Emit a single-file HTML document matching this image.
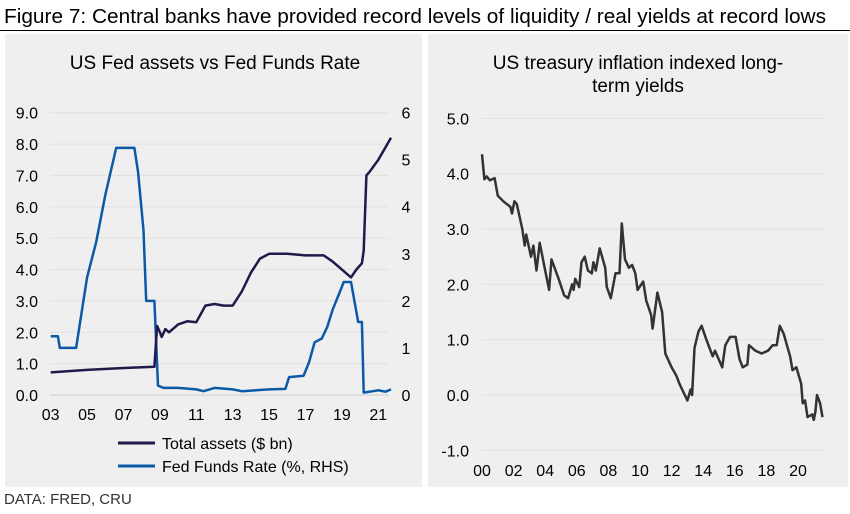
<!DOCTYPE html>
<html><head><meta charset="utf-8"><style>
body{margin:0;width:850px;height:509px;background:#fff;font-family:"Liberation Sans",Arial,sans-serif;overflow:hidden}
svg text{font-family:"Liberation Sans",Arial,sans-serif}
</style></head><body>
<svg id="s" width="850" height="509" xmlns="http://www.w3.org/2000/svg">
<text x="4" y="23" font-size="20.5" fill="#000" textLength="822" lengthAdjust="spacingAndGlyphs">Figure 7: Central banks have provided record levels of liquidity / real yields at record lows</text>
<line x1="0" y1="30.5" x2="850" y2="30.5" stroke="#000" stroke-width="1"/>
<rect x="5" y="34" width="417" height="453" fill="#efefef"/>
<rect x="428" y="34" width="420" height="453" fill="#efefef"/>
<text x="215" y="69" font-size="19" text-anchor="middle">US Fed assets vs Fed Funds Rate</text>
<text x="638" y="69" font-size="19" text-anchor="middle">US treasury inflation indexed long-</text>
<text x="638" y="92" font-size="19" text-anchor="middle">term yields</text>
<g id="g"></g>
<line x1="118" y1="443" x2="155" y2="443" stroke="#1f1a4a" stroke-width="3"/>
<text x="162" y="449" font-size="16">Total assets ($ bn)</text>
<line x1="118" y1="466" x2="155" y2="466" stroke="#0a5aa8" stroke-width="3"/>
<text x="162" y="472" font-size="16">Fed Funds Rate (%, RHS)</text>
<text x="4" y="504" font-size="15" fill="#333">DATA: FRED, CRU</text>
</svg>
<script>
var g=document.getElementById('g'),h='';
function lx(y){return (152+(y-2003)*54.6)/3}
function ly(v){return 90+(915-v*94.1)/3}
function ry(v){return 90+(915-v*141.2)/3}
for(var i=0;i<=9;i++){var y=ly(i);h+='<line x1="50" x2="389" y1="'+y+'" y2="'+y+'" stroke="#e0e0e0" stroke-width="1"/>';
h+='<text x="38" y="'+(y+6)+'" font-size="16" text-anchor="end">'+i.toFixed(1)+'</text>';}
for(var i=0;i<=6;i++){h+='<text x="406" y="'+(ry(i)+6)+'" font-size="16" text-anchor="middle">'+i+'</text>';}
h+='<line x1="50" x2="389" y1="'+ly(0)+'" y2="'+ly(0)+'" stroke="#ccc"/>';
for(var yr=2003;yr<=2021;yr+=2){var x=lx(yr);h+='<text x="'+x+'" y="420" font-size="16" text-anchor="middle">'+String(yr%100).padStart(2,'0')+'</text>';}
var A=[[2003,.72],[2005,.8],[2007,.86],[2008.7,.9],[2008.85,2.2],[2009,2.0],[2009.1,1.85],[2009.3,2.1],[2009.5,2.0],[2010,2.25],[2010.5,2.35],[2011,2.32],[2011.5,2.85],[2012,2.9],[2012.5,2.85],[2013,2.85],[2013.5,3.3],[2014,3.9],[2014.5,4.35],[2015,4.5],[2016,4.5],[2017,4.45],[2018,4.45],[2018.5,4.25],[2019.5,3.75],[2019.8,4.0],[2020.1,4.2],[2020.2,4.6],[2020.35,7.0],[2020.5,7.1],[2021,7.5],[2021.7,8.2]];
var F=[[2003,1.25],[2003.4,1.25],[2003.5,1.0],[2004.4,1.0],[2005,2.5],[2005.5,3.25],[2006,4.25],[2006.6,5.25],[2007.6,5.25],[2007.8,4.75],[2008.1,3.5],[2008.25,2.0],[2008.7,2.0],[2008.9,0.2],[2009.2,0.15],[2010,0.15],[2011,0.12],[2011.4,0.08],[2012,0.15],[2013,0.12],[2013.5,0.08],[2015,0.12],[2015.9,0.13],[2016.1,0.38],[2016.9,0.41],[2017.2,0.7],[2017.5,1.12],[2017.9,1.2],[2018.2,1.45],[2018.5,1.82],[2018.9,2.2],[2019.1,2.4],[2019.5,2.4],[2019.9,1.55],[2020.1,1.55],[2020.2,0.05],[2021,0.1],[2021.4,0.07],[2021.7,0.12]];
function path(d,fx,fy){return d.map(function(p,i){return(i?'L':'M')+fx(p[0]).toFixed(1)+','+fy(p[1]).toFixed(1)}).join('')}
h+='<path d="'+path(F,lx,ry)+'" fill="none" stroke="#0a5aa8" stroke-width="2.5" stroke-linejoin="round"/>';
h+='<path d="'+path(A,lx,ly)+'" fill="none" stroke="#1f1a4a" stroke-width="2.5" stroke-linejoin="round"/>';
function rx(y){return 425+(171+y*47.4)/3}
function rv(v){return 100+(885-v*166)/3}
for(var i=-1;i<=5;i++){var y=rv(i);h+='<line x1="482" x2="824" y1="'+y+'" y2="'+y+'" stroke="#e0e0e0"/>';
h+='<text x="469" y="'+(y+6)+'" font-size="16" text-anchor="end">'+(i<0?'-1.0':i.toFixed(1))+'</text>';}
for(var yr=0;yr<=20;yr+=2){h+='<text x="'+rx(yr)+'" y="476" font-size="16" text-anchor="middle">'+String(yr).padStart(2,'0')+'</text>';}
var R=[[0,4.35],[0.15,3.9],[0.3,3.95],[0.5,3.88],[0.8,3.92],[1,3.6],[1.35,3.5],[1.8,3.4],[1.9,3.28],[2.05,3.5],[2.2,3.45],[2.55,3.0],[2.7,2.7],[2.8,2.9],[3.1,2.5],[3.25,2.7],[3.45,2.25],[3.65,2.75],[4.0,2.25],[4.25,1.9],[4.4,2.45],[4.85,2.1],[5.2,1.8],[5.45,1.75],[5.7,2.0],[5.8,1.9],[5.9,2.1],[6.15,1.95],[6.3,2.4],[6.5,2.5],[6.7,2.25],[6.95,2.2],[7.05,2.4],[7.2,2.25],[7.45,2.65],[7.8,2.3],[7.9,1.95],[8.15,1.75],[8.45,2.2],[8.7,2.2],[8.85,3.1],[9.05,2.45],[9.3,2.3],[9.5,2.35],[9.7,2.2],[9.85,1.9],[10.2,2.05],[10.4,1.7],[10.7,1.45],[10.8,1.2],[11.1,1.85],[11.4,1.5],[11.6,0.75],[12.0,0.5],[12.3,0.35],[12.5,0.2],[13.0,-0.1],[13.2,0.1],[13.3,0.0],[13.45,0.85],[13.7,1.15],[13.9,1.25],[14.2,1.0],[14.6,0.7],[14.75,0.8],[15.2,0.5],[15.4,0.9],[15.7,1.05],[16.05,1.05],[16.3,0.65],[16.5,0.5],[16.8,0.55],[16.9,0.9],[17.3,0.8],[17.7,0.75],[18.1,0.8],[18.4,0.9],[18.65,0.9],[18.85,1.25],[19.1,1.1],[19.3,0.9],[19.5,0.7],[19.65,0.45],[19.9,0.5],[20.2,0.2],[20.3,-0.15],[20.45,-0.1],[20.6,-0.4],[20.9,-0.35],[21.0,-0.45],[21.1,-0.3],[21.2,0.0],[21.4,-0.15],[21.55,-0.4]];
h+='<path d="'+path(R,rx,rv)+'" fill="none" stroke="#333" stroke-width="2.5" stroke-linejoin="round"/>';
g.innerHTML=h;
</script>
</body></html>
